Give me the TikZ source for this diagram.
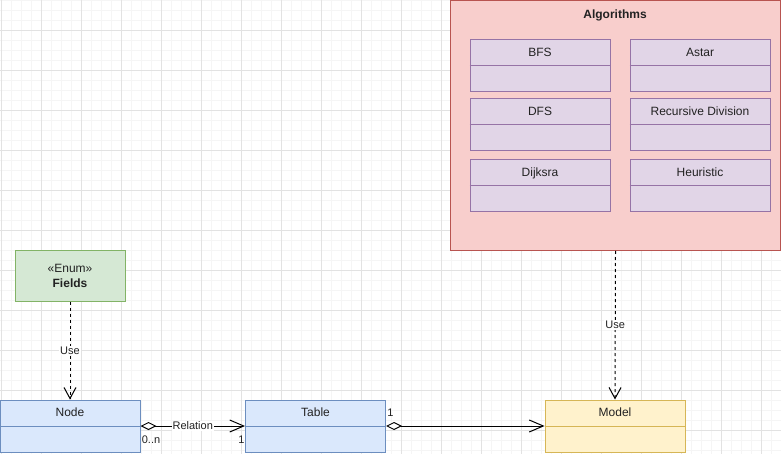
\documentclass[tikz,border=0pt]{standalone}
\usepackage{fontspec}
\setmainfont{Liberation Sans}
\usetikzlibrary{arrows.meta}
\definecolor{bluefill}{HTML}{DAE8FC}
\definecolor{bluedraw}{HTML}{6C8EBF}
\definecolor{greenfill}{HTML}{D5E8D4}
\definecolor{greendraw}{HTML}{82B366}
\definecolor{redfill}{HTML}{F8CECC}
\definecolor{reddraw}{HTML}{B85450}
\definecolor{purplefill}{HTML}{E1D5E7}
\definecolor{purpledraw}{HTML}{9673A6}
\definecolor{yellowfill}{HTML}{FFF2CC}
\definecolor{yellowdraw}{HTML}{D6B656}
\definecolor{minorgrid}{HTML}{F5F5F5}
\definecolor{majorgrid}{HTML}{E2E2E2}
\definecolor{txt}{HTML}{222222}
\begin{document}
\begin{tikzpicture}[x=1pt,y=-1pt,line width=1pt,
  font=\fontsize{12}{15}\selectfont, text=txt,
  minorline/.style={draw=minorgrid,line width=0.8pt},
  majorline/.style={draw=majorgrid,line width=0.8pt},
  classbox/.style={rectangle,inner sep=0pt,minimum width=140pt,minimum height=52pt},
  algbox/.style={classbox,fill=purplefill,draw=purpledraw},
  hdr/.style={label={[anchor=base,yshift=-17.3pt,inner sep=0pt,text=txt]north:#1}},
  edgelabel/.style={font=\fontsize{11}{13}\selectfont,fill=white,inner sep=1pt},
  smalllabel/.style={font=\fontsize{11}{13}\selectfont,inner sep=0pt},
  assoc/.style={draw=black,{Diamond[open,fill=white,length=16pt,width=8pt]}-{Straight Barb[length=14pt,width=12pt]}},
  useline/.style={draw=black,dash pattern=on 3pt off 3pt,-{Straight Barb[length=11pt,width=12pt]}}
]
\useasboundingbox (0,0) rectangle (781,454);
\fill[white] (0,0) rectangle (781,454);
% grid
\foreach \x in {1,11,...,781} \draw[minorline] (\x,0) -- (\x,454);
\foreach \y in {0,10,...,450} \draw[minorline] (0,\y) -- (781,\y);
\foreach \x in {1,41,...,781} \draw[majorline] (\x,0) -- (\x,454);
\foreach \y in {30,70,...,450} \draw[majorline] (0,\y) -- (781,\y);

% container
\node[rectangle,inner sep=0pt,minimum width=330pt,minimum height=250pt,fill=redfill,draw=reddraw,anchor=north west] (alg) at (450,0) {};
\node[font=\fontsize{12}{15}\selectfont\bfseries] (algtitle) at (615,15) {Algorithms};

\node[algbox,hdr=BFS] (bfs) at (540,66) {};
\node[algbox,hdr=Astar] (astar) at (700,66) {};
\node[algbox,hdr=DFS] (dfs) at (540,125) {};
\node[algbox,hdr=Recursive Division] (recdiv) at (700,125) {};
\node[algbox,hdr=Dijksra] (dijk) at (540,186) {};
\node[algbox,hdr=Heuristic] (heur) at (700,186) {};
\foreach \n in {bfs,astar,dfs,recdiv,dijk,heur}
  \draw[purpledraw] (\n.west) -- (\n.east);

% enum
\node[rectangle,inner sep=0pt,minimum width=110pt,minimum height=50pt,fill=greenfill,draw=greendraw,align=center] (fields) at (70,276) {«Enum»\\\textbf{Fields}};

% classes
\node[classbox,fill=bluefill,draw=bluedraw,hdr=Node] (node) at (70,426) {};
\node[classbox,fill=bluefill,draw=bluedraw,hdr=Table] (table) at (315.5,426) {};
\node[classbox,fill=yellowfill,draw=yellowdraw,hdr=Model] (model) at (615,426) {};
\draw[bluedraw] (node.west) -- (node.east);
\draw[bluedraw] (table.west) -- (table.east);
\draw[yellowdraw] (model.west) -- (model.east);

% connectors
\draw[useline] (fields.south) -- node[edgelabel] (use1) {Use} (node.north);
\draw[useline] (alg.south) -- node[edgelabel] (use2) {Use} (model.north);
\draw[assoc] (node.east) -- node[edgelabel] (rel) {Relation} (table.west);
\draw[assoc] (table.east) -- (model.west);

\node[smalllabel] (mult1) at (151,440) {0..n};
\node[smalllabel] (mult2) at (241.5,440) {1};
\node[smalllabel] (mult3) at (390.5,413) {1};
\end{tikzpicture}
\end{document}
